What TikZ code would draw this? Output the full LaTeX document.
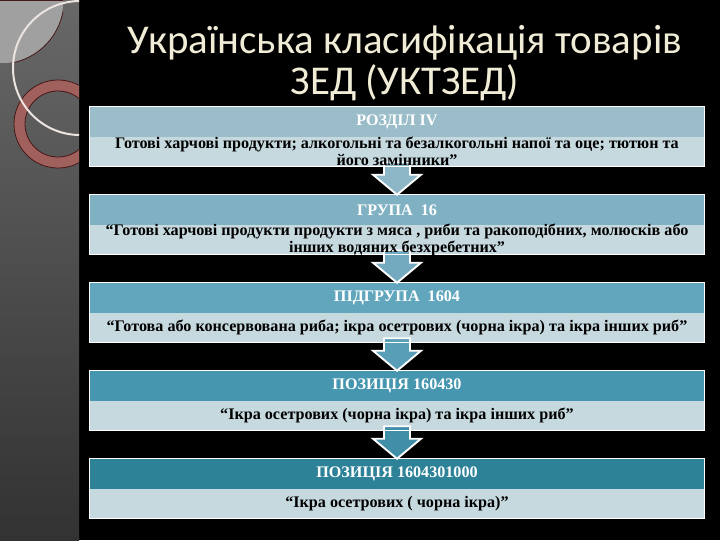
\documentclass[tikz,border=0pt]{standalone}
\usepackage{fontspec}
\setmainfont{Liberation Serif}
\newfontfamily\titlefont{Carlito}
\usetikzlibrary{positioning,calc}

\definecolor{sidetop}{RGB}{104,104,104}
\definecolor{sidebot}{RGB}{50,50,50}
\definecolor{cornerfill}{RGB}{160,160,160}
\definecolor{ringcol}{RGB}{160,96,92}
\definecolor{ringline}{RGB}{70,24,24}
\definecolor{arcline}{RGB}{236,228,224}
\definecolor{titlecol}{RGB}{240,236,214}
\definecolor{hdrA}{RGB}{155,189,201}
\definecolor{hdrB}{RGB}{128,177,195}
\definecolor{hdrC}{RGB}{98,166,189}
\definecolor{hdrD}{RGB}{70,150,176}
\definecolor{hdrE}{RGB}{46,130,152}
\definecolor{bodyfill}{RGB}{198,217,223}
\definecolor{arrA}{RGB}{141,182,198}
\definecolor{arrB}{RGB}{116,170,191}
\definecolor{arrC}{RGB}{88,158,183}
\definecolor{arrD}{RGB}{64,142,168}

\tikzset{
  hdr/.style={fill=#1,minimum width=460.5pt,minimum height=22.5pt,inner sep=0pt,
    text=white,font=\bfseries\fontsize{12.1}{12.75}\selectfont},
  bodyband/.style={fill=bodyfill,minimum width=460.5pt,minimum height=21.75pt,inner sep=0pt},
  bodytext/.style={align=center,inner sep=0pt,font=\bfseries\fontsize{12.1}{12.75}\selectfont},
  boxline/.style={draw=white,line width=0.9pt},
  blockarrow/.style={fill=#1,draw=white,line width=1.4pt,line join=miter},
}

% block arrow from the bottom of one box to the top of the next
\newcommand\downarrowblock[3]{%
  \path[blockarrow=#3] ($(#1.south)+(-13,-4)$) -- ($(#2.north)+(-13,-20)$)
    -- ($(#2.north)+(-24,-20)$) -- (#2.north) -- ($(#2.north)+(24,-20)$)
    -- ($(#2.north)+(13,-20)$) -- ($(#1.south)+(13,-4)$) -- cycle;}

\begin{document}
\begin{tikzpicture}[x=0.75pt,y=0.75pt,yscale=-1,xscale=1]
	% Background
	\fill[black] (0,0) rectangle (720,540);
	\useasboundingbox (0,0) rectangle (720,540);
	
	% Side bar
	\shade[top color=sidetop,bottom color=sidebot] (0,0) rectangle (79,540);
	\begin{scope}
		\clip (0,0) rectangle (79,540);
		\begin{scope}
			\clip (0,0) rectangle (63,62);
			\fill[cornerfill,draw=ringline,line width=0.6pt] (0,0) circle[radius=64];
		\end{scope}
		\draw[ringline,line width=0.6pt] (0,0.4) -- (63,0.4);
		\fill[ringcol,even odd rule,draw=ringline,line width=0.6pt] (58,124) circle[radius=44] (58,124) circle[radius=33];
		\draw[arcline,line width=1.5pt] (80,68) circle[radius=67];
	\end{scope}
	
	% Title
	\node[text=titlecol,align=center,font=\titlefont\fontsize{30.7}{31}\selectfont] (title) at (405,63) {Українська класифікація товарів\\ЗЕД (УКТЗЕД)};
	
	% Box bands
	\node[hdr=hdrA] (razdil) at (397,122) {РОЗДІЛ IV};
	\node[bodyband] (razdilBand) at (397,151.5) {};
	\node[hdr=hdrB] (hrupa) at (397,210) {ГРУПА\ \ 16};
	\node[bodyband] (hrupaBand) at (397,239.5) {};
	\node[hdr=hdrC] (pidhrupa) at (397,298) {ПІДГРУПА\ \ 1604};
	\node[bodyband] (pidhrupaBand) at (397,327.5) {};
	\node[hdr=hdrD] (pozytsiia) at (397,386) {ПОЗИЦІЯ 160430};
	\node[bodyband] (pozytsiiaBand) at (397,415.5) {};
	\node[hdr=hdrE] (subpozytsiia) at (397,474) {ПОЗИЦІЯ 1604301000};
	\node[bodyband] (subpozytsiiaBand) at (397,503.5) {};
	
	% Connection
	\downarrowblock{razdilBand}{hrupa}{arrA}
	\downarrowblock{hrupaBand}{pidhrupa}{arrB}
	\downarrowblock{pidhrupaBand}{pozytsiia}{arrC}
	\downarrowblock{pozytsiiaBand}{subpozytsiia}{arrD}
	
	% Box outlines
	\draw[boxline] (razdil.north west) rectangle (razdilBand.south east);
	\draw[boxline] (hrupa.north west) rectangle (hrupaBand.south east);
	\draw[boxline] (pidhrupa.north west) rectangle (pidhrupaBand.south east);
	\draw[boxline] (pozytsiia.north west) rectangle (pozytsiiaBand.south east);
	\draw[boxline] (subpozytsiia.north west) rectangle (subpozytsiiaBand.south east);
	
	% Text Node
	\node[bodytext] (razdilText) at (razdilBand) {Готові харчові продукти; алкогольні та безалкогольні напої та оце; тютюн та\\його замінники”};
	% Text Node
	\node[bodytext] (hrupaText) at (hrupaBand) {“Готові харчові продукти продукти з мяса , риби та ракоподібних, молюсків або\\інших водяних безхребетних”};
	% Text Node
	\node[bodytext] (pidhrupaText) at (pidhrupaBand) {“Готова або консервована риба; ікра осетрових (чорна ікра) та ікра інших риб”};
	% Text Node
	\node[bodytext] (pozytsiiaText) at (pozytsiiaBand) {“Ікра осетрових (чорна ікра) та ікра інших риб”};
	% Text Node
	\node[bodytext] (subpozytsiiaText) at (subpozytsiiaBand) {“Ікра осетрових ( чорна ікра)”};
	
\end{tikzpicture}
\end{document}
